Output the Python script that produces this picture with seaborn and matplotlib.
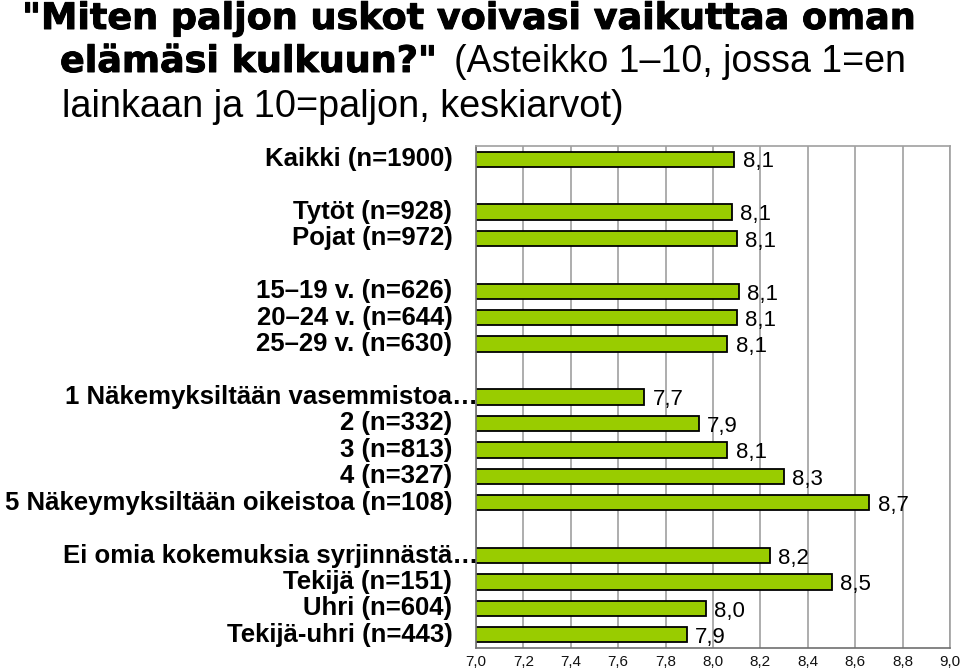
import matplotlib
matplotlib.use("Agg")
import matplotlib.pyplot as plt
import matplotlib.patheffects as pe
import matplotlib.transforms as mtransforms
from matplotlib.ticker import FixedLocator, FuncFormatter
import numpy as np
import pandas as pd
import seaborn as sns

# groups of categories, a blank slot is left between groups
groups = [
    ["Kaikki (n=1900)"],
    ["Tytöt (n=928)", "Pojat (n=972)"],
    ["15–19 v. (n=626)", "20–24 v. (n=644)", "25–29 v. (n=630)"],
    ["1 Näkemyksiltään vasemmistoa…", "2 (n=332)", "3 (n=813)", "4 (n=327)",
     "5 Näkeymyksiltään oikeistoa (n=108)"],
    ["Ei omia kokemuksia syrjinnästä…", "Tekijä (n=151)", "Uhri (n=604)",
     "Tekijä-uhri (n=443)"],
]
group_values = [
    [8.09],
    [8.08, 8.10],
    [8.11, 8.10, 8.06],
    [7.71, 7.94, 8.06, 8.30, 8.66],
    [8.24, 8.50, 7.97, 7.89],
]
x_ticks = [7.0, 7.2, 7.4, 7.6, 7.8, 8.0, 8.2, 8.4, 8.6, 8.8, 9.0]

BAR_COLOR = "#99cc00"


def comma(v, pos=None):
    return f"{v:.1f}".replace(".", ",")


# build the slot list with spacer rows
slots, slot_values = [], []
for i, (labs, vals) in enumerate(zip(groups, group_values)):
    if i > 0:
        slots.append(" " * i)
        slot_values.append(np.nan)
    slots.extend(labs)
    slot_values.extend(vals)
df = pd.DataFrame({"label": slots, "value": slot_values})

sns.set_style("white")
plt.rcParams["font.family"] = ["Liberation Sans", "DejaVu Sans"]
plt.rcParams["text.color"] = "black"

fig = plt.figure(figsize=(9.6, 6.7), dpi=100)
ax = fig.add_axes([476 / 960, 1 - 648 / 670, 474 / 960, 502 / 670])

sns.barplot(data=df, x="value", y="label", order=slots, orient="h",
            color=BAR_COLOR, saturation=1, width=0.58,
            edgecolor="black", linewidth=1.3, ax=ax, errorbar=None)

ax.set_xlim(7.0, 9.0)
ax.set_ylim(len(slots) - 0.5, -0.5)
ax.xaxis.set_major_locator(FixedLocator(x_ticks))
ax.xaxis.set_major_formatter(FuncFormatter(comma))
ax.yaxis.set_major_locator(FixedLocator(np.arange(-0.5, len(slots), 1)))
ax.yaxis.set_major_formatter(FuncFormatter(lambda v, pos: ""))
ax.tick_params(axis="y", length=5, width=1, color="#808080", direction="out")
ax.tick_params(axis="x", length=4, width=1, color="#808080", direction="out",
               pad=1, labelsize=11, labelcolor="#111111")
ax.set_xlabel("")
ax.set_ylabel("")
ax.xaxis.grid(True, color="#a0a0a0", linewidth=1.2)
ax.yaxis.grid(False)
ax.set_axisbelow(True)
for side in ["top", "right", "left", "bottom"]:
    ax.spines[side].set_visible(True)
    ax.spines[side].set_color("#a0a0a0")
    ax.spines[side].set_linewidth(1.2)
ax.spines["left"].set_color("#707070")
ax.spines["bottom"].set_color("#707070")

# category labels
trans = mtransforms.blended_transform_factory(ax.transAxes, ax.transData)
for i, lab in enumerate(slots):
    if not lab.strip():
        continue
    xpos = 0.004 if lab.endswith("…") else -0.05
    ax.text(xpos, i, lab, transform=trans, ha="right", va="center",
            fontsize=18.5, fontweight="bold", color="black")

# value labels
for p in ax.patches:
    w = p.get_width()
    if np.isnan(w):
        continue
    ax.annotate(comma(w), (w, p.get_y() + p.get_height() / 2),
                xytext=(6, -2), textcoords="offset points",
                ha="left", va="center", fontsize=16, color="black")

# title: bold question followed by normal explanation
heavy = [pe.withStroke(linewidth=0.7, foreground="black")]
renderer = fig.canvas.get_renderer()
fig.text(22 / 960, 1 - 29 / 670, '"Miten paljon uskot voivasi vaikuttaa oman',
         fontsize=26.3, fontweight="bold", family=["DejaVu Sans"],
         va="baseline", ha="left", color="black", path_effects=heavy)
t2 = fig.text(60 / 960, 1 - 72 / 670, 'elämäsi kulkuun?"',
              fontsize=26.3, fontweight="bold", family=["DejaVu Sans"],
              va="baseline", ha="left", color="black", path_effects=heavy)
bb = t2.get_window_extent(renderer)
fig.text((bb.x1 + 16) / 960, 1 - 72 / 670, "(Asteikko 1–10, jossa 1=en",
         fontsize=27, va="baseline", ha="left", color="black")
fig.text(62 / 960, 1 - 117 / 670, "lainkaan ja 10=paljon, keskiarvot)",
         fontsize=27.3, va="baseline", ha="left", color="black")

fig.savefig("out.png", dpi=100, facecolor="white")
